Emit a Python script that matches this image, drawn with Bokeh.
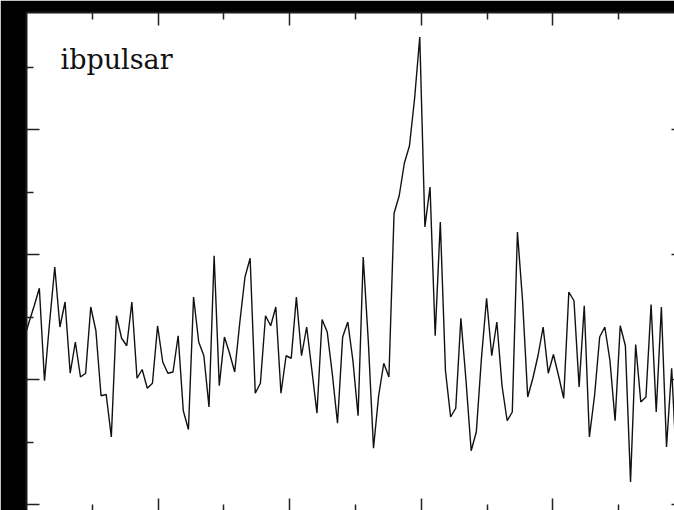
from bokeh.plotting import figure
from bokeh.models import LinearAxis, FixedTicker, Range1d, Label, ColumnDataSource, CustomJSTickFormatter
from bokeh.embed import file_html
from bokeh.resources import INLINE
import numpy as np

# Pulse profile, 128 phase bins (arbitrary intensity units)
n_bins = 128
profile = [
    1.46, 1.59, 1.73, 0.99, 1.46, 1.90, 1.42, 1.62, 1.05, 1.30,
    1.02, 1.05, 1.58, 1.39, 0.87, 0.88, 0.54, 1.51, 1.33, 1.27,
    1.62, 1.01, 1.08, 0.93, 0.97, 1.43, 1.14, 1.05, 1.06, 1.35,
    0.75, 0.60, 1.66, 1.30, 1.19, 0.78, 1.99, 0.95, 1.34, 1.21,
    1.06, 1.46, 1.82, 1.97, 0.89, 0.97, 1.51, 1.43, 1.58, 0.89,
    1.19, 1.17, 1.66, 1.19, 1.42, 1.08, 0.73, 1.48, 1.38, 1.04,
    0.65, 1.34, 1.46, 1.15, 0.71, 1.98, 1.30, 0.45, 0.87, 1.13,
    1.02, 2.33, 2.47, 2.73, 2.87, 3.25, 3.74, 2.22, 2.54, 1.35,
    2.26, 1.07, 0.70, 0.77, 1.49, 0.99, 0.43, 0.58, 1.17, 1.65,
    1.19, 1.46, 0.95, 0.67, 0.74, 2.18, 1.63, 0.86, 1.01, 1.19,
    1.42, 1.05, 1.20, 1.03, 0.85, 1.70, 1.63, 0.94, 1.59, 0.54,
    0.87, 1.34, 1.42, 1.15, 0.67, 1.43, 1.27, 0.18, 1.28, 0.82,
    0.86, 1.60, 0.74, 1.58, 0.46, 1.09, 0.27, 1.32,
]
label_text = "ibpulsar"
x_major = [0.2, 0.4, 0.6, 0.8]
x_minor = [0.1, 0.3, 0.5, 0.7, 0.9]
y_major = [0, 1, 2, 3]
y_minor = [0.5, 1.5, 2.5, 3.5]

phase = (np.arange(n_bins) + 0.5) / n_bins
# wrap the last bin in front so the trace starts at the left edge
xs = np.concatenate([[phase[-1] - 1.0], phase])
ys = np.concatenate([[profile[-1]], profile])
src = ColumnDataSource(dict(x=xs, y=ys))

p = figure(width=674, height=510, output_backend="svg", toolbar_location=None,
           x_axis_location=None, y_axis_location=None,
           x_range=Range1d(0, 0.9848), y_range=Range1d(-0.048, 3.936),
           min_border_left=26, min_border_top=12, min_border_right=0, min_border_bottom=0,
           background_fill_color="white", border_fill_color="black",
           outline_line_color=None)
p.grid.visible = False

p.line("x", "y", source=src, line_color="#111111", line_width=1.4)

def make_axis(major, minor, tin, mtin, show_line):
    ax = LinearAxis(ticker=FixedTicker(ticks=major, minor_ticks=minor),
                    formatter=CustomJSTickFormatter(code="return ''"))
    ax.major_tick_in = tin
    ax.major_tick_out = 0
    ax.minor_tick_in = mtin
    ax.minor_tick_out = 0
    ax.major_label_standoff = 0
    ax.major_tick_line_color = "#222222"
    ax.minor_tick_line_color = "#222222"
    ax.major_tick_line_width = 1.5
    ax.minor_tick_line_width = 1.5
    ax.axis_line_color = "#1a1a1a" if show_line else None
    ax.axis_line_width = 2
    return ax

p.add_layout(make_axis(y_major, y_minor, 13, 7, True), "left")
p.add_layout(make_axis(x_major, x_minor, 13, 7, True), "above")
p.add_layout(make_axis(y_major, y_minor, 3, 0, False), "right")
p.add_layout(make_axis(x_major, x_minor, 12, 6, False), "below")

p.add_layout(Label(x=34, y=451, x_units="screen", y_units="screen", text=label_text,
                   text_font="DejaVu Serif", text_font_size="27px", text_color="#111111",
                   text_baseline="alphabetic"))

open("out.html", "w").write(file_html(p, INLINE))
